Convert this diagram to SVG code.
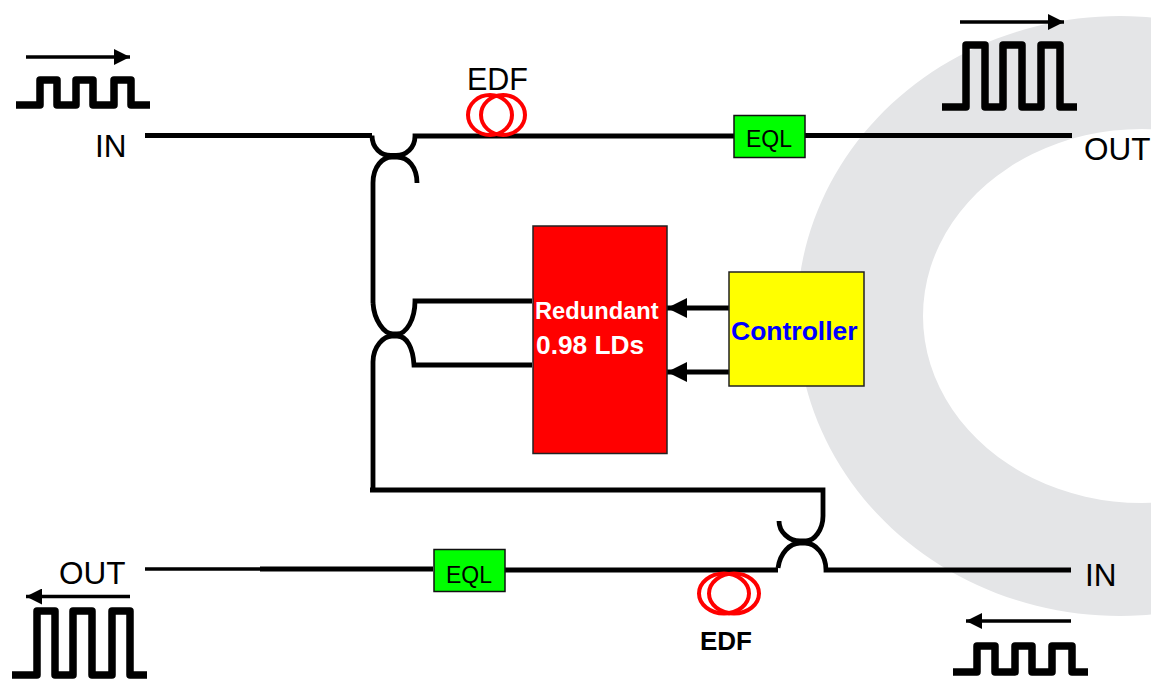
<svg xmlns="http://www.w3.org/2000/svg" width="1151" height="679" viewBox="0 0 1151 679">
<style>
text{font-family:"Liberation Sans",Arial,sans-serif;fill:#000}
.w{fill:none;stroke:#000;stroke-width:7.500;stroke-linejoin:round}
.c{fill:none;stroke:#000;stroke-width:4.800}
.t{fill:none;stroke:#000;stroke-width:3.500}
.a{fill:none;stroke:#000;stroke-width:3.500;marker-end:url(#h)}
.b{fill:none;stroke:#000;stroke-width:5;marker-end:url(#h2)}
.coil{fill:none;stroke:#f00;stroke-width:4}
.eql{fill:#0f0;stroke:#111;stroke-width:1.500}
.bx{stroke:#222;stroke-width:1.500}
</style>
<defs>
<marker id="h" markerUnits="userSpaceOnUse" markerWidth="16" markerHeight="16" refX="16" refY="8" orient="auto"><path d="M0,0L16,8L0,16Z" fill="#000"/></marker>
<marker id="h2" markerUnits="userSpaceOnUse" markerWidth="20" markerHeight="20" refX="20" refY="10" orient="auto"><path d="M0,0L20,10L0,20Z" fill="#000"/></marker>
</defs>
<path id="ring" fill="#e4e5e7" fill-rule="evenodd" d="M1120,16a323,300 0 1,0 .01,0ZM1142,129a219,187 0 1,1 -.01,0Z"/>
<g id="connectors">
<path class="c" d="M145,135.500H372"/>
<path class="c" d="M372,135.500C372,148 381,155.500 391,155.500H396C406,155.500 415,148 415,136H735"/>
<path class="c" d="M373,303V183C373,166 383,157 392,157H397C408,157 417,167 417,183"/>
<path class="c" d="M373,303C374,320 384,334 393,334H397C406,334 415,320 415,301H532"/>
<path class="c" d="M373,490V362C373,346 384,336 392,336H397C407,336 413,348 414,365H532"/>
<path class="c" d="M370,490H823V516C823,530 814,541 806,541H800C789,541 779,532 779,521"/>
<path class="c" d="M778,568C780,553 790,543 800,543H805C816,543 826,555 826,570H1071"/>
<path class="t" d="M145,569H260"/>
<path class="c" d="M260,569H433"/>
<path class="c" d="M504,570H778"/>
<path class="c" d="M805,135.500H1072"/>
<path class="b" d="M729,308H667"/>
<path class="b" d="M729,372H667"/>
</g>
<g id="edf-top"><text x="467" y="90" font-size="30.500">EDF</text><ellipse class="coil" cx="490" cy="115" rx="22" ry="20"/><ellipse class="coil" cx="503" cy="115" rx="22" ry="20"/></g>
<g id="edf-bottom"><ellipse class="coil" cx="724" cy="593.500" rx="25" ry="20"/><ellipse class="coil" cx="734" cy="593.500" rx="25" ry="20"/><text x="700" y="650" font-size="26" font-weight="bold">EDF</text></g>
<g id="eql-top"><rect class="eql" x="734" y="115.500" width="71" height="42"/><text x="769" y="147" font-size="23" text-anchor="middle">EQL</text></g>
<g id="eql-bottom"><rect class="eql" x="434" y="549.500" width="71" height="42"/><text x="469" y="583" font-size="23" text-anchor="middle">EQL</text></g>
<g id="redundant"><rect class="bx" x="533" y="226" width="134" height="227.500" fill="#f00"/><text x="535" y="319" font-size="23.700" font-weight="bold" style="fill:#fff">Redundant</text><text x="536" y="354" font-size="26.300" font-weight="bold" style="fill:#fff">0.98 LDs</text></g>
<g id="controller"><rect class="bx" x="729" y="272" width="135" height="114" fill="#ff0"/><text x="731" y="340" font-size="26.500" font-weight="bold" style="fill:#00f">Controller</text></g>
<g id="in-top"><path class="a" d="M26,57H130"/><path class="w" d="M16,105H40V80H57V105H76V80H93V105H114V80H131V105H150"/><text x="95" y="157" font-size="31.500">IN</text></g>
<g id="out-top"><path class="a" d="M960,22H1064"/><path class="w" d="M942,107H966V45H985V107H1003V45H1022V107H1041V45H1060V107H1077"/><text x="1084" y="160" font-size="31.500">OUT</text></g>
<g id="out-bottom"><text x="59" y="584" font-size="31.500">OUT</text><path class="a" d="M130,596.500H26"/><path class="w" d="M12,675H37V611H55V675H73V611H92V675H112V611H130V675H147"/></g>
<g id="in-bottom"><text x="1085" y="586" font-size="31.500">IN</text><path class="a" d="M1071,621H966"/><path class="w" d="M953,672H977V646H995V672H1015V646H1032V672H1052V646H1072V672H1088"/></g>
</svg>
